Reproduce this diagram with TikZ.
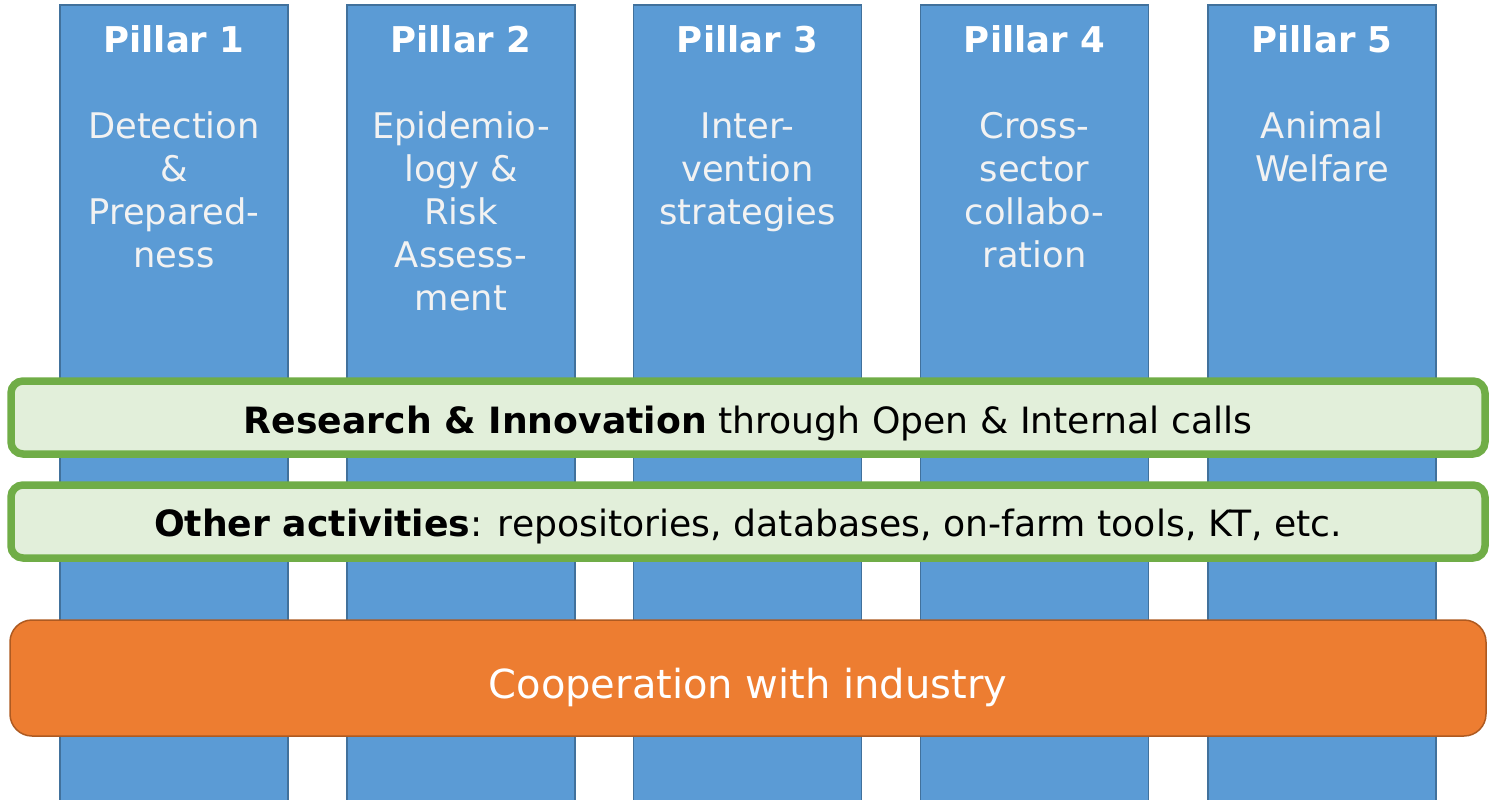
\documentclass[tikz,border=0pt]{standalone}
\usepackage{fontspec}
\setmainfont{DejaVu Sans}
\definecolor{pfill}{HTML}{5B9BD5}
\definecolor{pline}{HTML}{41719C}
\definecolor{gfill}{HTML}{E2EFDA}
\definecolor{gline}{HTML}{70AD47}
\definecolor{ofill}{HTML}{ED7D31}
\definecolor{oline}{HTML}{AE5A21}
\definecolor{ptext}{HTML}{F2F2F2}
\tikzset{
  pillar/.style={draw=pline, fill=pfill, line width=1.5pt, minimum width=228pt, minimum height=800pt, inner sep=0pt},
  ptitle/.style={anchor=base, text=white, font=\fontsize{35.5}{40}\selectfont\bfseries, inner sep=0pt},
  pbody/.style={anchor=base, text=ptext, align=center, font=\fontsize{35.3}{43.2}\selectfont, inner sep=0pt},
  gbar/.style={draw=gline, fill=gfill, line width=7.5pt, rounded corners=12pt, minimum width=1474pt, minimum height=73pt, inner sep=0pt},
  obar/.style={draw=oline, fill=ofill, line width=1.5pt, rounded corners=22pt, minimum width=1476pt, minimum height=116pt, inner sep=0pt},
  btext/.style={anchor=base, text=black, font=\fontsize{36.2}{40}\selectfont, inner sep=0pt},
  otext/.style={anchor=base, text=white, font=\fontsize{40}{50}\selectfont, inner sep=0pt}
}
\begin{document}
\begin{tikzpicture}[x=1pt,y=-1pt]
\useasboundingbox (0,0) rectangle (1489,800);
\clip (0,0) rectangle (1489,800);
% pillars
\node[pillar] (p1) at (174,405) {};
\node[pillar] (p2) at (461,405) {};
\node[pillar] (p3) at (747.5,405) {};
\node[pillar] (p4) at (1034.5,405) {};
\node[pillar] (p5) at (1322,405) {};
% titles
\node[ptitle] (t1) at (174,53) {Pillar 1};
\node[ptitle] (t2) at (461,53) {Pillar 2};
\node[ptitle] (t3) at (747.5,53) {Pillar 3};
\node[ptitle] (t4) at (1034.5,53) {Pillar 4};
\node[ptitle] (t5) at (1322,53) {Pillar 5};
% bodies (anchor = baseline of last line)
\node[pbody] (b1) at (174,267.6) {Detection\\\&\\Prepared-\\ness};
\node[pbody] (b2) at (461,310.8) {Epidemio-\\logy \&\\Risk\\Assess-\\ment};
\node[pbody] (b3) at (747.5,224.4) {Inter-\\vention\\strategies};
\node[pbody] (b4) at (1034.5,267.6) {Cross-\\sector\\collabo-\\ration};
\node[pbody] (b5) at (1322,181.2) {Animal\\Welfare};
% bars
\node[gbar] (g1) at (748,417.5) {};
\node[btext] (g1t) at (748,433) {\textbf{Research \& Innovation} through Open \& Internal calls};
\node[gbar] (g2) at (748,521.5) {};
\node[btext] (g2t) at (748,536) {\textbf{Other activities}: repositories, databases, on-farm tools, KT, etc.};
\node[obar] (o1) at (748,678) {};
\node[otext] (o1t) at (748,698) {Cooperation with industry};
\end{tikzpicture}
\end{document}
